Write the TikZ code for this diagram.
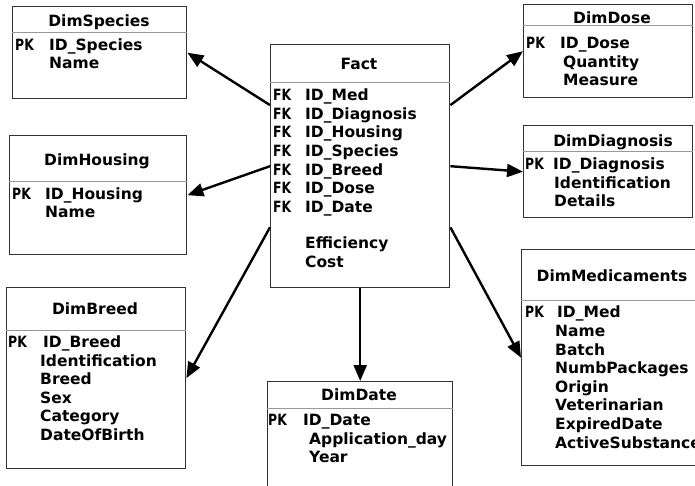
\documentclass[tikz,border=0pt]{standalone}
\usepackage{fontspec}
\setmainfont{DejaVu Sans}
\newfontfamily\keyfont{DejaVu Sans}[FakeStretch=0.8]
\usetikzlibrary{arrows.meta, calc}

\begin{document}
\begin{tikzpicture}[
        x=1pt, y=-1pt,
        >={Triangle[length=16pt, width=13pt]},
        tbl/.style={draw=black!80, line width=1.4pt, inner sep=0pt, anchor=north west},
        sep/.style={draw=black!40, line width=1pt},
        ttl/.style={font=\fontsize{15.5pt}{18pt}\bfseries, inner sep=0pt, text height=11pt, text depth=0pt},
        fld/.style={ttl, anchor=west},
        key/.style={fld, font=\fontsize{15.5pt}{18pt}\keyfont\bfseries},
        e/.style={->, line width=2.4pt}
    ]
        \clip (0,0) rectangle (695,486);

        % 表框
        \node[tbl, minimum width=179pt, minimum height=243pt] (fact) at (270,44) {};
        \node[tbl, minimum width=174pt, minimum height=92pt] (spc) at (12,6) {};
        \node[tbl, minimum width=177pt, minimum height=119pt] (hous) at (9,135) {};
        \node[tbl, minimum width=179pt, minimum height=181pt] (breed) at (6,287) {};
        \node[tbl, minimum width=185pt, minimum height=120pt] (date) at (267,381) {};
        \node[tbl, minimum width=169pt, minimum height=93pt] (dose) at (523,4) {};
        \node[tbl, minimum width=169pt, minimum height=92pt] (diag) at (523,125) {};
        \node[tbl, minimum width=190pt, minimum height=216pt] (med) at (521,249) {};

        % 表头分隔线
        \draw[sep] (fact.west |- 0,83) -- (fact.east |- 0,83);
        \draw[sep] (spc.west |- 0,33) -- (spc.east |- 0,33);
        \draw[sep] (hous.west |- 0,182) -- (hous.east |- 0,182);
        \draw[sep] (breed.west |- 0,330) -- (breed.east |- 0,330);
        \draw[sep] (date.west |- 0,408) -- (date.east |- 0,408);
        \draw[sep] (dose.west |- 0,26) -- (dose.east |- 0,26);
        \draw[sep] (diag.west |- 0,152) -- (diag.east |- 0,152);
        \draw[sep] (med.west |- 0,300) -- (med.east |- 0,300);

        % Fact
        \node[ttl] (fact-t) at (359,64) {Fact};
        \foreach \f [count=\i] in {Med, Diagnosis, Housing, Species, Breed, Dose, Date} {
            \node[key] (fact-k\i) at (273,{95+18.65*(\i-1)}) {FK};
            \node[fld] (fact-\i) at (305,{95+18.65*(\i-1)}) {ID\_\f};
        }
        \node[fld] (fact-m1) at (305,243) {Efficiency};
        \node[fld] (fact-m2) at (305,262) {Cost};

        % DimSpecies
        \node[ttl] (spc-t) at (99,21) {DimSpecies};
        \node[key] (spc-k) at (15,45) {PK};
        \node[fld] (spc-1) at (49,45) {ID\_Species};
        \node[fld] (spc-2) at (49,63) {Name};

        % DimHousing
        \node[ttl] (hous-t) at (97,160) {DimHousing};
        \node[key] (hous-k) at (12,194) {PK};
        \node[fld] (hous-1) at (45,194) {ID\_Housing};
        \node[fld] (hous-2) at (45,212) {Name};

        % DimBreed
        \node[ttl] (breed-t) at (95,309) {DimBreed};
        \node[key] (breed-k) at (8,342) {PK};
        \node[fld] (breed-1) at (43,342) {ID\_Breed};
        \foreach \f [count=\i] in {Identification, Breed, Sex, Category, DateOfBirth}
            \node[fld] (breed-a\i) at (40,{360.5+18.5*(\i-1)}) {\f};

        % DimDate
        \node[ttl] (date-t) at (359,395) {DimDate};
        \node[key] (date-k) at (268,420) {PK};
        \node[fld] (date-1) at (303,420) {ID\_Date};
        \node[fld] (date-2) at (309,439) {Application\_day};
        \node[fld] (date-3) at (309,457) {Year};

        % DimDose
        \node[ttl] (dose-t) at (612,18) {DimDose};
        \node[key] (dose-k) at (526,43) {PK};
        \node[fld] (dose-1) at (560,43) {ID\_Dose};
        \node[fld] (dose-2) at (563,62) {Quantity};
        \node[fld] (dose-3) at (563,80) {Measure};

        % DimDiagnosis
        \node[ttl] (diag-t) at (613,141) {DimDiagnosis};
        \node[key] (diag-k) at (525,164) {PK};
        \node[fld] (diag-1) at (553,164) {ID\_Diagnosis};
        \node[fld] (diag-2) at (554,183) {Identification};
        \node[fld] (diag-3) at (554,201) {Details};

        % DimMedicaments
        \node[ttl] (med-t) at (612,276) {DimMedicaments};
        \node[key] (med-k) at (525,312) {PK};
        \node[fld] (med-1) at (557,312) {ID\_Med};
        \foreach \f [count=\i] in {Name, Batch, NumbPackages, Origin, Veterinarian, ExpiredDate, ActiveSubstance}
            \node[fld] (med-a\i) at (555,{331+18.6*(\i-1)}) {\f};

        % 事实表指向各维度表
        \draw[e] ($(fact.north west)!.25!(fact.south west)$) -- (spc.east);
        \draw[e] (fact.west) -- (hous.east);
        \draw[e] ($(fact.north west)!.75!(fact.south west)$) -- (breed.east);
        \draw[e] (fact.south) -- (date.north);
        \draw[e] ($(fact.north east)!.25!(fact.south east)$) -- (dose.west);
        \draw[e] (fact.east) -- (diag.west);
        \draw[e] ($(fact.north east)!.75!(fact.south east)$) -- (med.west);
    \end{tikzpicture}
\end{document}
